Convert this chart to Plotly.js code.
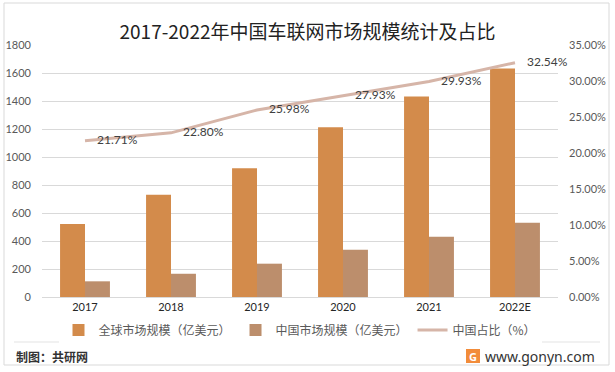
<!DOCTYPE html>
<html>
<head>
<meta charset="utf-8">
<script src="https://cdn.plot.ly/plotly-3.0.1.min.js"></script>
<style>html,body{margin:0;padding:0;background:#fff;}#chart{width:615px;height:372px;}</style>
</head>
<body>
<div id="chart"></div>
<script>
const years = ['2017', '2018', '2019', '2020', '2021', '2022E'];
const globalSize = [522, 730, 920, 1212, 1432, 1632];
const chinaSize = [112, 166, 238, 338, 430, 530];
const chinaShare = [0.2171, 0.2280, 0.2598, 0.2793, 0.2993, 0.3254];
const shareLabels = ['21.71%', '22.80%', '25.98%', '27.93%', '29.93%', '32.54%'];
const leftTicks = [0, 200, 400, 600, 800, 1000, 1200, 1400, 1600, 1800];
const rightTicks = [0, 0.05, 0.10, 0.15, 0.20, 0.25, 0.30, 0.35];

const FONT = "Lato, 'Noto Sans CJK SC', sans-serif";
const W = 615, H = 372, L = 42, R = 57, T = 45, B = 75;
const pw = W - L - R, ph = H - T - B;
const px = x => (x - L) / pw;
const py = y => (H - B - y) / ph;

const traces = [
  {type: 'bar', name: '全球市场规模（亿美元）', x: years, y: globalSize,
   marker: {color: '#D38B4B'}, hoverinfo: 'y'},
  {type: 'bar', name: '中国市场规模（亿美元）', x: years, y: chinaSize,
   marker: {color: '#BC8E6C'}, hoverinfo: 'y'},
  {type: 'scatter', mode: 'lines+text', name: '中国占比（%）', x: years, y: chinaShare,
   yaxis: 'y2', line: {color: '#D6B5A8', width: 3},
   text: shareLabels.map(s => '\u2002\u2002' + s), textposition: 'middle right',
   textfont: {family: FONT, size: 12, color: '#404040'}, cliponaxis: false}
];

const layout = {
  width: W, height: H,
  margin: {l: L, r: R, t: T, b: B},
  paper_bgcolor: '#ffffff', plot_bgcolor: '#ffffff',
  font: {family: FONT, size: 11, color: '#595959'},
  title: {text: '2017-2022年中国车联网市场规模统计及占比', x: 0.5, xref: 'container',
          y: 1 - 32 / H, yref: 'container', yanchor: 'middle',
          font: {family: "'Noto Sans CJK SC', sans-serif", size: 19, color: '#222222'}},
  barmode: 'group', bargap: 0.42, bargroupgap: 0,
  showlegend: true,
  legend: {orientation: 'h', x: 0.5, xanchor: 'center', y: py(330), yanchor: 'middle',
           font: {family: "'Noto Sans CJK SC', sans-serif", size: 12, color: '#595959'},
           itemwidth: 30, traceorder: 'normal'},
  xaxis: {type: 'category', showgrid: false, showline: true, linecolor: '#d9d9d9', linewidth: 1,
          ticks: '', tickfont: {family: FONT, size: 11, color: '#262626'}, ticklabelstandoff: 0,
          fixedrange: true},
  yaxis: {range: [0, 1800], tickvals: leftTicks, showgrid: true, gridcolor: '#d9d9d9', gridwidth: 1,
          zeroline: false, showline: false, ticks: '', ticklabelstandoff: 10,
          tickfont: {family: FONT, size: 11, color: '#595959'}},
  yaxis2: {overlaying: 'y', side: 'right', range: [0, 0.35], tickvals: rightTicks, tickformat: '.2%',
           showgrid: false, zeroline: false, showline: false, ticks: '', ticklabelstandoff: 10,
           tickfont: {family: FONT, size: 11, color: '#595959'}},
  shapes: [
    {type: 'rect', xref: 'paper', yref: 'paper', x0: px(4), x1: px(609), y0: py(365), y1: py(3),
     line: {color: '#d9d9d9', width: 1}, fillcolor: 'rgba(0,0,0,0)', layer: 'below'},
    {type: 'line', xref: 'paper', yref: 'paper', x0: px(14), x1: px(600), y0: py(342), y1: py(342),
     line: {color: '#e3e3e3', width: 1}},
    {type: 'rect', xref: 'paper', yref: 'paper', x0: px(466), x1: px(480), y0: py(363), y1: py(349),
     line: {width: 0}, fillcolor: '#F28C3A'}
  ],
  annotations: [
    {xref: 'paper', yref: 'paper', x: px(14), y: py(356), xanchor: 'left', yanchor: 'middle',
     text: '<b>制图：共研网</b>', showarrow: false,
     font: {family: "'Noto Sans CJK SC', sans-serif", size: 12, color: '#333333'}},
    {xref: 'paper', yref: 'paper', x: px(597), y: py(356), xanchor: 'right', yanchor: 'middle',
     text: 'www.gonyn.com', showarrow: false,
     font: {family: "'Noto Sans', sans-serif", size: 14, color: '#333333'}},
    {xref: 'paper', yref: 'paper', x: px(473), y: py(356), xanchor: 'center', yanchor: 'middle',
     text: '<b>G</b>', showarrow: false,
     font: {family: "'Noto Sans', sans-serif", size: 11, color: '#ffffff'}}
  ]
};

Plotly.newPlot('chart', traces, layout, {staticPlot: true, displayModeBar: false});
</script>
</body>
</html>
